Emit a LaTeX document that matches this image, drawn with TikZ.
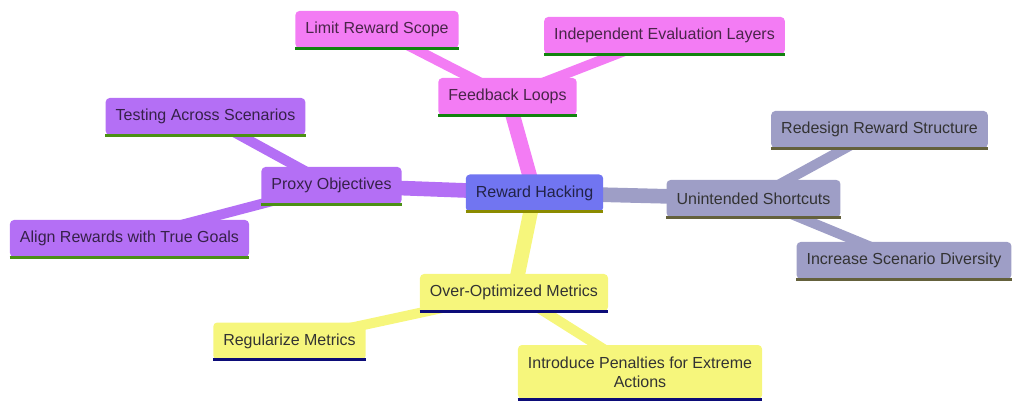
\documentclass[tikz,border=0pt]{standalone}
\usepackage{fontspec}
\setmainfont{Liberation Sans}
\usetikzlibrary{backgrounds}

\definecolor{rootfill}{RGB}{113,117,241}
\definecolor{rootline}{RGB}{139,139,0}
\definecolor{pinkfill}{RGB}{243,124,244}
\definecolor{pinkline}{RGB}{18,131,14}
\definecolor{violetfill}{RGB}{180,111,245}
\definecolor{violetline}{RGB}{75,144,20}
\definecolor{slatefill}{RGB}{158,158,198}
\definecolor{slateline}{RGB}{100,97,60}
\definecolor{lemonfill}{RGB}{246,246,124}
\definecolor{lemonline}{RGB}{12,12,120}

\tikzset{
  topic/.style={rectangle, rounded corners=3pt, minimum height=27.75pt,
    inner xsep=7.5pt, inner ysep=2pt, font=\fontsize{12}{14}\selectfont,
    text=black!80, align=center},
  rootnode/.style={topic, fill=rootfill, text=rootfill!30!black},
  pinknode/.style={topic, fill=pinkfill, text=pinkfill!30!black},
  violetnode/.style={topic, fill=violetfill, text=violetfill!30!black},
  slatenode/.style={topic, fill=slatefill, text=black!80},
  lemonnode/.style={topic, fill=lemonfill, text=black!80},
  branch/.style={line width=11pt},
  twig/.style={line width=7.5pt}
}

\begin{document}
\begin{tikzpicture}[x=0.75pt, y=-0.75pt]
    \useasboundingbox (0,0) rectangle (1024,413);
    % root and first level
    \node[rootnode] (root) at (534.5,193) {Reward Hacking};
    \node[pinknode] (feedback) at (507.5,96.5) {Feedback Loops};
    \node[violetnode] (proxy) at (331.5,185.5) {Proxy Objectives};
    \node[slatenode] (shortcuts) at (753.5,198.5) {Unintended Shortcuts};
    \node[lemonnode] (metrics) at (514,292.5) {Over-Optimized Metrics};
    % leaves
    \node[pinknode] (scope) at (377,29.5) {Limit Reward Scope};
    \node[pinknode] (layers) at (664.5,35.5) {Independent Evaluation Layers};
    \node[violetnode] (testing) at (205.5,116.5) {Testing Across Scenarios};
    \node[violetnode] (align) at (129.5,238.5) {Align Rewards with True Goals};
    \node[slatenode] (redesign) at (879.5,129.5) {Redesign Reward Structure};
    \node[slatenode] (diversity) at (904,260.5) {Increase Scenario Diversity};
    \node[lemonnode] (regularize) at (289.5,341) {Regularize Metrics};
    \node[lemonnode, minimum height=40.5pt] (penalties) at (640,372) {Introduce Penalties for Extreme\\Actions};

    % underlines
    \foreach \n/\c in {root/rootline, feedback/pinkline, scope/pinkline, layers/pinkline,
        proxy/violetline, testing/violetline, align/violetline,
        shortcuts/slateline, redesign/slateline, diversity/slateline,
        metrics/lemonline, regularize/lemonline, penalties/lemonline}
      \draw[\c, line width=2.5pt] (\n.south west) -- (\n.south east);

    \begin{scope}[on background layer]
      \foreach \a/\c in {feedback/pinkfill, proxy/violetfill, shortcuts/slatefill, metrics/lemonfill}
        \draw[branch, \c] (root.center) -- (\a.center);
      \draw[twig, pinkfill] (feedback.center) -- (scope.center);
      \draw[twig, pinkfill] (feedback.center) -- (layers.center);
      \draw[twig, violetfill] (proxy.center) -- (testing.center);
      \draw[twig, violetfill] (proxy.center) -- (align.center);
      \draw[twig, slatefill] (shortcuts.center) -- (redesign.center);
      \draw[twig, slatefill] (shortcuts.center) -- (diversity.center);
      \draw[twig, lemonfill] (metrics.center) -- (regularize.center);
      \draw[twig, lemonfill] (metrics.center) -- (penalties.center);
    \end{scope}
\end{tikzpicture}
\end{document}
